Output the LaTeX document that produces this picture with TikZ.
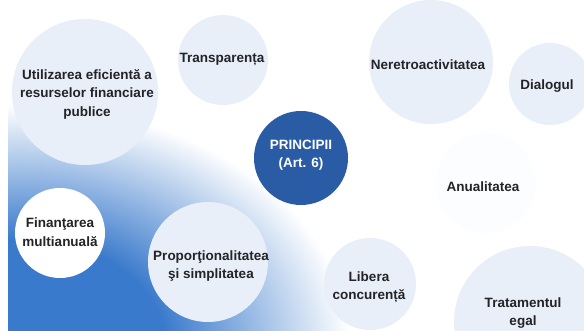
\documentclass[tikz,border=0pt]{standalone}
\usepackage{fontspec}
\setmainfont{Liberation Sans}

\definecolor{bubble}{RGB}{232,239,248}
\definecolor{hubblue}{RGB}{42,92,165}
\definecolor{fadeblue}{RGB}{58,122,204}
\definecolor{ink}{RGB}{35,35,40}
\pgfdeclareradialshading{bluefade}{\pgfpoint{0bp}{0bp}}{color(0bp)=(fadeblue); color(11bp)=(fadeblue); color(25bp)=(white); color(50bp)=(white)}

\begin{document}
\begin{tikzpicture}[x=1pt,y=-1pt,
    disc/.style={circle,fill=bubble,inner sep=0pt,minimum size=#1},
    word/.style={font=\bfseries\fontsize{13.5}{18.5}\selectfont,text=ink,align=center}]
  \useasboundingbox (0,0) rectangle (584,331);
  \clip (0,0) rectangle (584,331);
  \fill[white] (0,0) rectangle (584,331);

  % blue fade in the lower left corner
  \begin{scope}
    \clip (8,0) rectangle (584,331);
    \shade[shading=bluefade] (20,345) ellipse (330 and 240);
  \end{scope}

  \node[disc=146pt] (utilC) at (85,92) {};
  \node[disc=90pt] (transpC) at (223,60) {};
  \node[disc=124pt] (neretroC) at (431,62) {};
  \node[disc=82pt] (dialogC) at (550,84) {};
  \node[disc=100pt,fill=bubble!15] (anualC) at (486,183) {};
  \node[disc=90pt,fill=white] (finantC) at (60,233) {};
  \node[disc=120pt] (proporC) at (208,262) {};
  \node[disc=92pt] (liberaC) at (370,284) {};
  \node[disc=152pt] (tratC) at (530,322) {};
  \node[disc=94pt,fill=hubblue] (hubC) at (301,158) {};

  \node[word] (util) at (87,94) {Utilizarea eficientă a\\resurselor financiare\\publice};
  \node[word] (transp) at (222,59) {Transparența};
  \node[word,text=white] (hub) at (301,155) {PRINCIPII\\(Art. 6)};
  \node[word] (neretro) at (428,65) {Neretroactivitatea};
  \node[word] (dialog) at (547,86) {Dialogul};
  \node[word] (anual) at (483,187) {Anualitatea};
  \node[word] (finant) at (60,232) {Finanţarea\\multianuală};
  \node[word] (propor) at (211,266) {Proporţionalitatea\\şi simplitatea};
  \node[word] (libera) at (369,287) {Libera\\concurență};
  \node[word] (trat) at (523,313) {Tratamentul\\egal};
\end{tikzpicture}
\end{document}
